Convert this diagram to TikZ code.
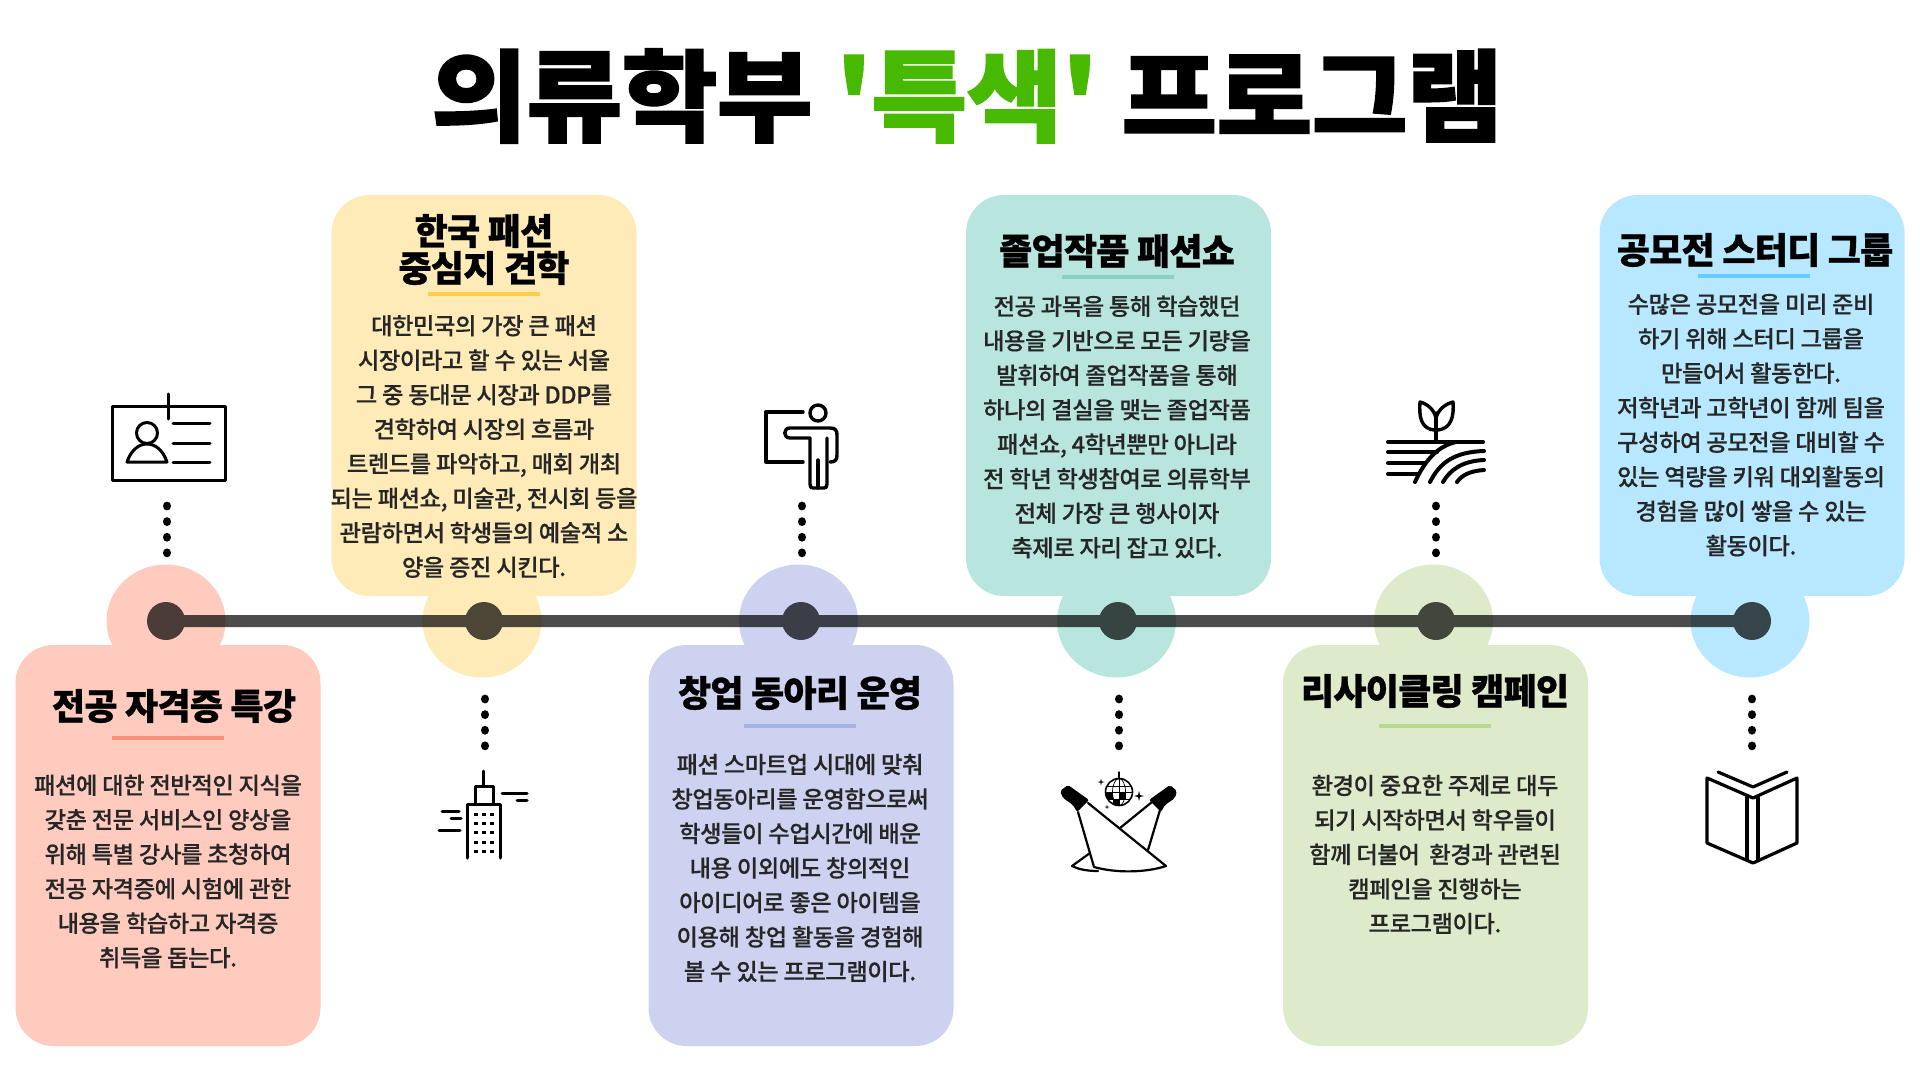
\documentclass[tikz,border=0pt]{standalone}
\usepackage{fontspec}
\setmainfont[LetterSpace=-2,FakeBold=0.3]{Noto Sans CJK KR Medium}
\newfontfamily\heavyfont[LetterSpace=-2,FakeBold=0.8]{Noto Sans CJK KR Black}
\newfontfamily\titlefont[FakeBold=1.5,FakeStretch=1.045,LetterSpace=-1]{Noto Sans CJK KR Black}
\usetikzlibrary{positioning,shapes.geometric}
\definecolor{redpale}{HTML}{FFCBBF}
\definecolor{yellowpale}{HTML}{FFEBB8}
\definecolor{purplepale}{HTML}{CCD2EF}
\definecolor{tealpale}{HTML}{B8E6DF}
\definecolor{greenpale}{HTML}{DEEBCB}
\definecolor{bluepale}{HTML}{B8E8FF}
\newcommand*{\sparkle}[2]{\fill (#1) ++(0,-#2) -- ++({#2*.2},{#2*.8}) -- ++({#2*.8},{#2*.2})
  -- ++({-#2*.8},{#2*.2}) -- ++({-#2*.2},{#2*.8}) -- ++({-#2*.2},{-#2*.8})
  -- ++({-#2*.8},{-#2*.2}) -- ++({#2*.8},{-#2*.2}) -- cycle;}

\begin{document}
\begin{tikzpicture}[x=0.5pt,y=-0.5pt,%
  % common options for the cards:
  card/.style = {rounded corners=19pt, minimum width=152.5pt,
              minimum height=200.5pt, inner sep=0},
  % common options for the ovals behind the track:
  halo/.style = {ellipse, minimum width=59.5pt, minimum height=56.5pt, inner sep=0},
  % stations on the track:
  stop/.style = {circle, fill=black, minimum size=19pt, inner sep=0},
  track/.style = {line width=6pt},
  headline/.style = {font=\heavyfont\fontsize{18pt}{18.5pt}\selectfont, align=center, inner sep=0},
  copy/.style = {font=\fontsize{11.65pt}{17.25pt}\selectfont, align=center, inner sep=0,
              text=black!85},
  underline/.style = {minimum width=56pt, minimum height=1.8pt, inner sep=0},
  dotted4/.style = {line width=4.4pt, line cap=round, dash pattern=on 0.01pt off 7.8pt},
  icon/.style = {line width=1.5pt, line cap=round, line join=round}]

\useasboundingbox (0,0) rectangle (1920,1080);

% main title
\node[font=\titlefont\fontsize{50pt}{54pt}\selectfont,inner sep=0] (title) at (967,96)
   {의류학부 \textcolor[HTML]{46B900}{'특색'} 프로그램};

% ovals behind the track
\node[halo,fill=redpale] (halo1) at (166,621) {};
\node[halo,fill=yellowpale] (halo2) at (482,621) {};
\node[halo,fill=purplepale] (halo3) at (798.5,621) {};
\node[halo,fill=tealpale] (halo4) at (1116.5,621) {};
\node[halo,fill=greenpale] (halo5) at (1433.5,621) {};
\node[halo,fill=bluepale] (halo6) at (1750,621) {};

% track and its stops
\begin{scope}[transparency group,opacity=.7]
\node[stop] (stop1) at (166,621) {};
\node[stop] (stop2) at (484,621) {};
\node[stop] (stop3) at (801,621) {};
\node[stop] (stop4) at (1118,621) {};
\node[stop] (stop5) at (1436,621) {};
\node[stop] (stop6) at (1752,621) {};
\draw[track] (stop1.center) -- (stop6.center);
\end{scope}

% cards below the track
\node[card,fill=redpale] (card1) at (168,845.5) {};
\node[card,fill=purplepale] (card3) at (801,845.5) {};
\node[card,fill=greenpale] (card5) at (1435.5,845.5) {};

% cards above the track
\node[card,fill=yellowpale] (card2) at (484,395.5) {};
\node[card,fill=tealpale] (card4) at (1118.5,395.5) {};
\node[card,fill=bluepale] (card6) at (1752,395.5) {};

% first card
\node[headline] (head1) at (174,706) {전공 자격증 특강};
\node[underline,fill={rgb,255:red,255;green,143;blue,122}] (rule1) at (168,738) {};
\node[copy] (text1) at (168,871.5) {패션에 대한 전반적인 지식을\\
   갖춘 전문 서비스인 양상을\\
   위해 특별 강사를 초청하여\\
   전공 자격증에 시험에 관한\\
   내용을 학습하고 자격증\\
   취득을 돕는다.};

% second card
\node[headline] (head2) at (484,249.5) {한국 패션\\중심지 견학};
\node[underline,fill={rgb,255:red,255;green,205;blue,77}] (rule2) at (484,294) {};
\node[copy] (text2) at (484,446.5) {대한민국의 가장 큰 패션\\
   시장이라고 할 수 있는 서울\\
   그 중 동대문 시장과 DDP를\\
   견학하여 시장의 흐름과\\
   트렌드를 파악하고, 매회 개최\\
   되는 패션쇼, 미술관, 전시회 등을\\
   관람하면서 학생들의 예술적 소\\
   양을 증진 시킨다.};

% third card
\node[headline] (head3) at (800,693) {창업 동아리 운영};
\node[underline,fill={rgb,255:red,166;green,179;blue,224}] (rule3) at (800,726) {};
\node[copy] (text3) at (800,868) {패션 스마트업 시대에 맞춰\\
   창업동아리를 운영함으로써\\
   학생들이 수업시간에 배운\\
   내용 이외에도 창의적인\\
   아이디어로 좋은 아이템을\\
   이용해 창업 활동을 경험해\\
   볼 수 있는 프로그램이다.};

% fourth card
\node[headline] (head4) at (1117,251) {졸업작품 패션쇼};
\node[underline,fill={rgb,255:red,138;green,208;blue,199}] (rule4) at (1118,277) {};
\node[copy] (text4) at (1117,427) {전공 과목을 통해 학습했던\\
   내용을 기반으로 모든 기량을\\
   발휘하여 졸업작품을 통해\\
   하나의 결실을 맺는 졸업작품\\
   패션쇼, 4학년뿐만 아니라\\
   전 학년 학생참여로 의류학부\\
   전체 가장 큰 행사이자\\
   축제로 자리 잡고 있다.};

% fifth card
\node[headline] (head5) at (1435,691) {리사이클링 캠페인};
\node[underline,fill={rgb,255:red,185;green,217;blue,144}] (rule5) at (1435,726) {};
\node[copy] (text5) at (1435,854.5) {환경이 중요한 주제로 대두\\
   되기 시작하면서 학우들이\\
   함께 더불어 \ 환경과 관련된\\
   캠페인을 진행하는\\
   프로그램이다.};

% sixth card
\node[headline] (head6) at (1755,250) {공모전 스터디 그룹};
\node[underline,fill={rgb,255:red,102;green,204;blue,255}] (rule6) at (1754,276) {};
\node[copy] (text6) at (1751,425) {수많은 공모전을 미리 준비\\
   하기 위해 스터디 그룹을\\
   만들어서 활동한다.\\
   저학년과 고학년이 함께 팀을\\
   구성하여 공모전을 대비할 수\\
   있는 역량을 키워 대외활동의\\
   경험을 많이 쌓을 수 있는\\
   활동이다.};

% dots from the ovals to the icons
\coordinate (dots1a) at (167,506);
\coordinate (dots1b) at (167,553);
\coordinate (dots2a) at (485,699);
\coordinate (dots2b) at (485,746);
\coordinate (dots3a) at (802,506);
\coordinate (dots3b) at (802,553);
\coordinate (dots4a) at (1119,699);
\coordinate (dots4b) at (1119,746);
\coordinate (dots5a) at (1436,506);
\coordinate (dots5b) at (1436,553);
\coordinate (dots6a) at (1752,699);
\coordinate (dots6b) at (1752,746);
\draw[dotted4] (dots1a) -- (dots1b);
\draw[dotted4] (dots2a) -- (dots2b);
\draw[dotted4] (dots3a) -- (dots3b);
\draw[dotted4] (dots4a) -- (dots4b);
\draw[dotted4] (dots5a) -- (dots5b);
\draw[dotted4] (dots6a) -- (dots6b);

% id card icon
\draw[icon] (112,406) rectangle (225,480);
\draw[icon] (168,394) -- (168,419);
\draw[icon] (173,423) -- (210,423);
\draw[icon] (173,443) -- (210,443);
\draw[icon] (173,462) -- (210,462);
\draw[icon] (147,433) circle (10.5);
\draw[icon] (127,462) .. controls (131,450) and (139,444) .. (147,444)
   .. controls (155,444) and (163,450) .. (167,462) -- cycle;

% tower icon
\draw[icon] (483,771) -- (483,786);
\draw[icon] (475,804) -- (475,786) -- (493,786) -- (493,804);
\draw[icon] (467,858) -- (467,804) -- (500,804) -- (500,858);
\draw[line width=2pt,dash pattern=on 1.5pt off 3.2pt] (476,812.5) -- (476,857);
\draw[line width=2pt,dash pattern=on 1.5pt off 3.2pt] (484,812.5) -- (484,857);
\draw[line width=2pt,dash pattern=on 1.5pt off 3.2pt] (492,812.5) -- (492,857);
\draw[icon] (502,793) -- (527,793);
\draw[icon] (517,800) -- (527,800);
\draw[icon] (442,811) -- (459,811);
\draw[icon] (451,818) -- (461,818);
\draw[icon] (439,830) -- (460,830);

% presenter icon
\draw[icon,line width=1.7pt] (803,412) -- (766,412) -- (766,462) -- (803,462);
\draw[icon,line width=1.7pt] (818,413) circle (8);
\draw[icon,line width=1.7pt] (810,438) -- (790,438) .. controls (783,438) and (783,428) .. (790,428)
   -- (830,428) .. controls (835,428) and (837,430) .. (837,435) -- (837,455)
   .. controls (837,460) and (835,462) .. (830,462);
\draw[icon,line width=1.7pt] (810,438) -- (810,484) .. controls (810,487) and (811,488) .. (813,488)
   -- (824,488) .. controls (826,488) and (827,487) .. (827,484) -- (827,438);
\draw[icon,line width=1.7pt] (818,460) -- (818,488);

% spotlight icon
\draw[icon,line width=.7pt] (1119,772) -- (1119,779);
\draw[icon,line width=.8pt] (1119,792) circle (13.5);
\begin{scope}
\clip (1119,792) circle (13.5);
\draw[line width=.35pt] (1119,779) -- (1119,806);
\draw[line width=.35pt] (1119,792) ellipse (6.5 and 13.5);
\draw[line width=.35pt] (1105,786) -- (1133,786);
\draw[line width=.35pt] (1105,792) -- (1133,792);
\draw[line width=.35pt] (1105,799) -- (1133,799);
\fill (1105,792) rectangle (1112.5,799);
\fill (1112.5,799) rectangle (1119,806);
\fill (1119,792) rectangle (1125.5,799);
\end{scope}
\sparkle{1101,782}{3.5}
\sparkle{1139,796}{5}
\sparkle{1107,807}{2.5}
\fill[rounded corners=1pt] (1060,791) -- (1068,785) -- (1089,800) -- (1077,812) -- (1073,805) -- (1063,798) -- cycle;
\fill[rounded corners=1pt] (1177,791) -- (1170,785) -- (1149,800) -- (1161,812) -- (1165,805) -- (1175,798) -- cycle;
\draw[icon,line width=1.1pt] (1078,812) -- (1094,867) .. controls (1115,873) and (1145,873) .. (1166,866) -- (1088,803);
\draw[icon,line width=1.1pt] (1152,802) -- (1120,828);
\draw[icon,line width=1.1pt] (1090,853) -- (1072,866) .. controls (1078,869) and (1086,871) .. (1098,871);
\draw[icon,line width=1.1pt] (1160,810) -- (1148,850);

% field icon
\draw[icon,line width=2pt] (1388,442) -- (1483,442);
\draw[icon,line width=2pt] (1388,452) -- (1437,452);
\draw[icon,line width=2pt] (1388,463) -- (1425,463);
\draw[icon,line width=2pt] (1388,474) -- (1417,474);
\draw[icon,line width=2pt] (1415,482) .. controls (1425,460) and (1438,446) .. (1456,442);
\draw[icon,line width=2pt] (1430,482) .. controls (1440,462) and (1455,452) .. (1484,451);
\draw[icon,line width=2pt] (1443,482) .. controls (1450,470) and (1462,461) .. (1484,460);
\draw[icon,line width=2pt] (1457,482) .. controls (1462,475) and (1470,471) .. (1484,470);
\draw[icon,line width=1.7pt] (1436,442) -- (1436,413);
\draw[icon,line width=1.7pt] (1436,430) .. controls (1420,430) and (1419,415) .. (1420,402)
   .. controls (1428,404) and (1434,410) .. (1436,418) .. controls (1438,410) and (1445,404) .. (1453,402)
   .. controls (1454,415) and (1452,430) .. (1436,430);

% book icon
\draw[icon,line width=1.6pt] (1707,778) -- (1753,798) -- (1797,778) -- (1797,843) -- (1753,863) -- (1707,843) -- cycle;
\draw[icon,line width=1.6pt] (1747,797) -- (1747,860);
\draw[icon,line width=1.6pt] (1758,797) -- (1758,860);
\draw[icon,line width=1.6pt] (1718,772) -- (1753,787) -- (1787,772);
\end{tikzpicture}
\end{document}
